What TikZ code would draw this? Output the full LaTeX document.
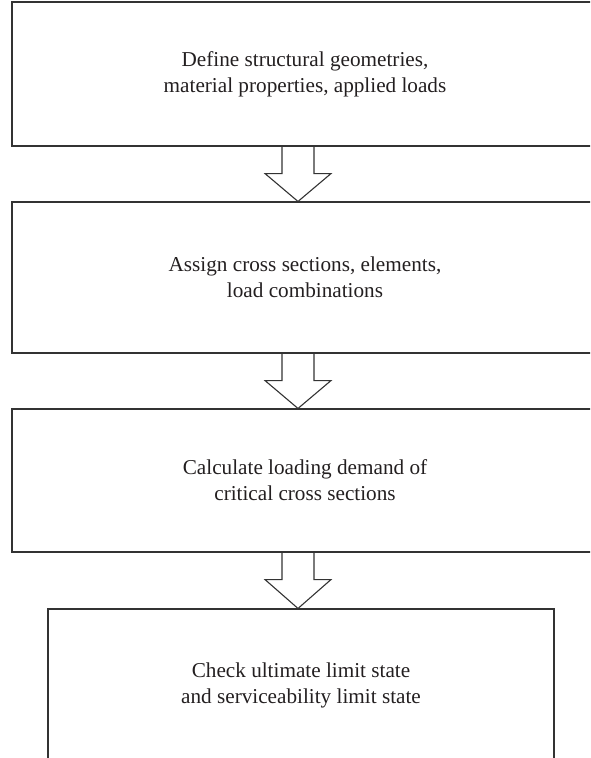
\documentclass[tikz,border=0pt]{standalone}
\usepackage{fontspec}
\setmainfont{Liberation Serif}
\usetikzlibrary{calc}
\definecolor{lineclr}{HTML}{333333}
\definecolor{txtclr}{HTML}{231F20}
\begin{document}
\begin{tikzpicture}[x=1pt,y=-1pt,
  stepbox/.style={draw=lineclr, line width=1.1pt, rectangle, inner sep=0pt,
    align=center, text=txtclr, font=\fontsize{21.2}{26}\selectfont},
  hollow/.style={draw=lineclr, line width=1.1pt, line join=miter}]
\useasboundingbox (0,0) rectangle (590,758);
\clip (0,0) rectangle (590,758);
\node[stepbox, minimum width=586pt, minimum height=144pt] (b1) at (305,74)
  {Define structural geometries,\\material properties, applied loads};
\node[stepbox, minimum width=586pt, minimum height=151pt] (b2) at (305,277.5)
  {Assign cross sections, elements,\\load combinations};
\node[stepbox, minimum width=586pt, minimum height=143pt] (b3) at (305,480.5)
  {Calculate loading demand of\\critical cross sections};
\node[stepbox, minimum width=506pt, minimum height=153pt] (b4) at (301,685.5)
  {Check ultimate limit state\\and serviceability limit state};
\coordinate (ax) at (298,0);
\foreach \u/\v in {b1/b2,b2/b3,b3/b4}{
  \draw[hollow] let \p1=(ax |- \u.south), \p2=(ax |- \v.north) in
    (\x1-16pt,\y1) -- (\x1-16pt,\y1-27pt) -- (\x1-33pt,\y1-27pt) -- (\x2,\y2)
    -- (\x1+33pt,\y1-27pt) -- (\x1+16pt,\y1-27pt) -- (\x1+16pt,\y1);
}
\end{tikzpicture}
\end{document}
